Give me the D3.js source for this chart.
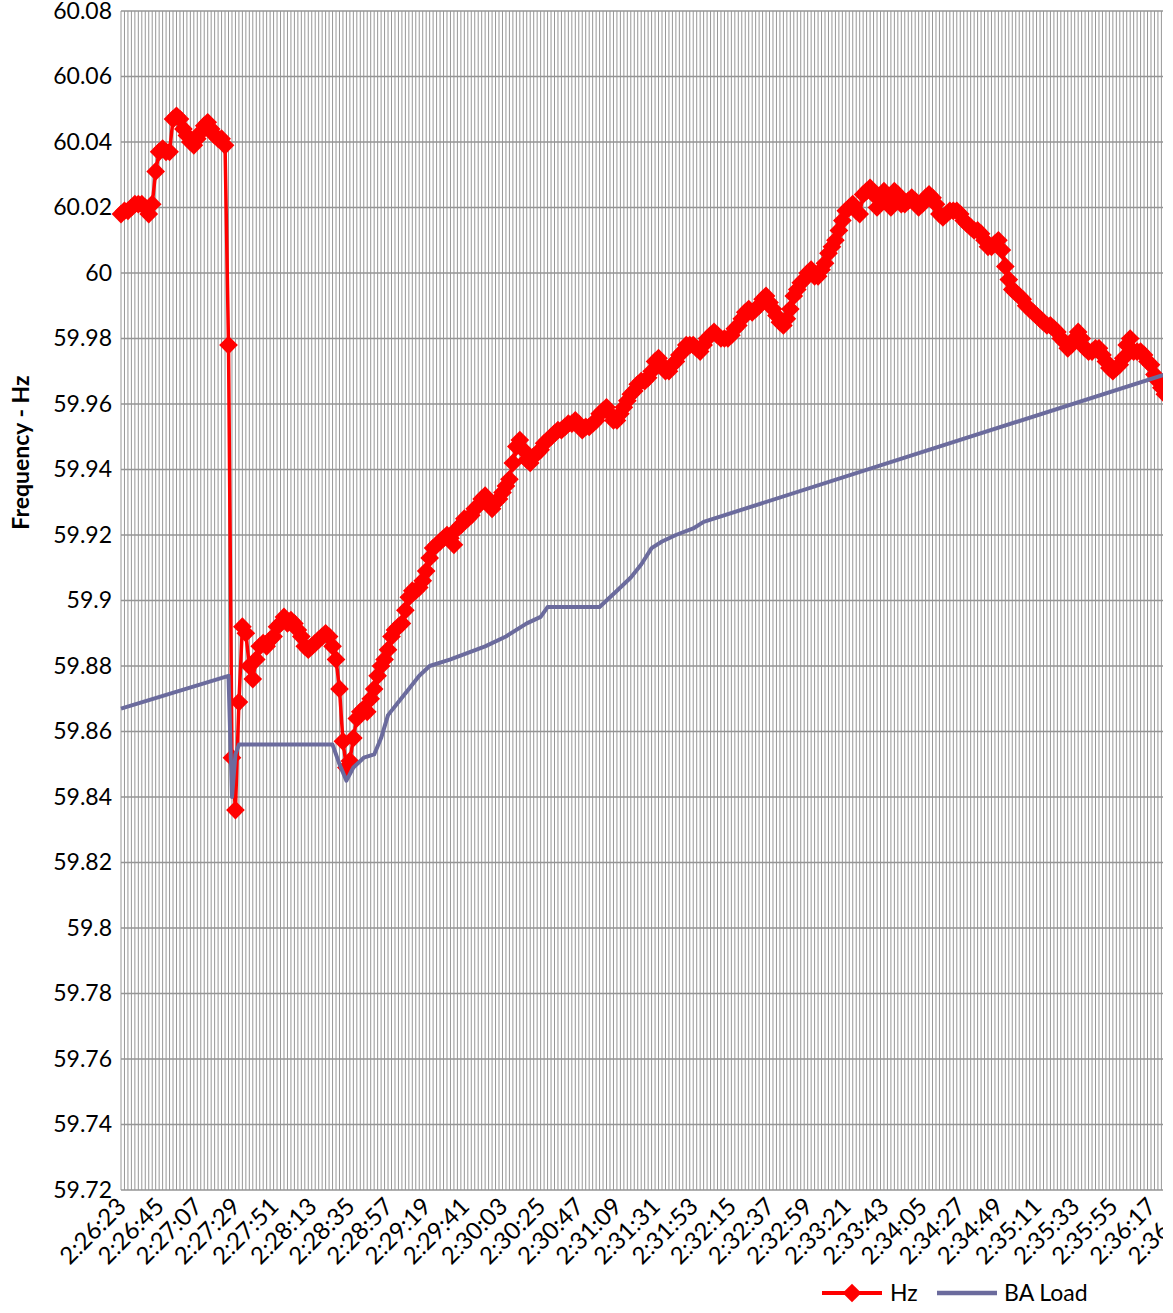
<!DOCTYPE html>
<html>
<head>
<meta charset="utf-8">
<script src="https://cdn.jsdelivr.net/npm/d3@7"></script>
<style>
  body { margin: 0; background: #fff; }
  svg { display: block; }
  text { font-family: Lato, "Open Sans", sans-serif; fill: #000; }
</style>
</head>
<body>
<div id="chart"></div>
<script>
// ---- data ----
var startTime = "2:26:23";      // first sample
var stepSeconds = 2;            // one sample every 2 s
var nCategories = 309;          // 2:26:23 .. 2:36:39

var tickLabels = ["2:26:23","2:26:45","2:27:07","2:27:29","2:27:51","2:28:13","2:28:35",
  "2:28:57","2:29:19","2:29:41","2:30:03","2:30:25","2:30:47","2:31:09","2:31:31",
  "2:31:53","2:32:15","2:32:37","2:32:59","2:33:21","2:33:43","2:34:05","2:34:27",
  "2:34:49","2:35:11","2:35:33","2:35:55","2:36:17","2:36:39"];

var yTicks = [59.72,59.74,59.76,59.78,59.8,59.82,59.84,59.86,59.88,59.9,59.92,59.94,
  59.96,59.98,60,60.02,60.04,60.06,60.08];

// Hz, one value per sample from 2:26:23
var hz = [
  60.018,60.019,60.019,60.020,60.021,60.021,60.021,60.020,60.018,60.021,
  60.031,60.037,60.038,60.037,60.037,60.047,60.048,60.047,60.044,60.042,
  60.040,60.039,60.041,60.043,60.045,60.046,60.044,60.042,60.041,60.041,
  60.039,59.978,59.852,59.836,59.869,59.892,59.890,59.880,59.876,59.882,
  59.886,59.887,59.886,59.888,59.889,59.892,59.893,59.895,59.893,59.894,
  59.893,59.891,59.889,59.886,59.885,59.886,59.887,59.888,59.889,59.890,
  59.889,59.886,59.882,59.873,59.857,59.849,59.851,59.858,59.864,59.866,
  59.867,59.866,59.870,59.873,59.877,59.880,59.882,59.885,59.889,59.891,
  59.892,59.893,59.897,59.901,59.903,59.903,59.904,59.906,59.909,59.913,
  59.916,59.917,59.918,59.919,59.920,59.919,59.917,59.922,59.923,59.925,
  59.925,59.926,59.928,59.929,59.931,59.932,59.930,59.928,59.930,59.931,
  59.933,59.935,59.937,59.942,59.947,59.949,59.946,59.943,59.942,59.944,
  59.945,59.946,59.948,59.949,59.950,59.951,59.952,59.952,59.953,59.954,
  59.954,59.955,59.954,59.952,59.953,59.953,59.954,59.955,59.957,59.958,
  59.959,59.957,59.955,59.955,59.957,59.959,59.961,59.963,59.964,59.966,
  59.967,59.967,59.968,59.970,59.973,59.974,59.972,59.970,59.970,59.972,
  59.973,59.975,59.976,59.978,59.978,59.978,59.977,59.976,59.978,59.980,
  59.981,59.982,59.981,59.980,59.980,59.980,59.981,59.983,59.984,59.986,
  59.988,59.989,59.988,59.989,59.990,59.992,59.993,59.991,59.989,59.987,
  59.985,59.984,59.986,59.989,59.993,59.995,59.997,59.998,60.000,60.001,
  59.999,59.999,60.001,60.003,60.006,60.008,60.010,60.013,60.016,60.019,
  60.020,60.021,60.019,60.018,60.024,60.025,60.026,60.024,60.020,60.023,
  60.025,60.022,60.020,60.025,60.024,60.021,60.021,60.022,60.023,60.022,
  60.020,60.021,60.023,60.024,60.023,60.021,60.018,60.017,60.018,60.019,
  60.019,60.019,60.018,60.016,60.015,60.014,60.013,60.013,60.012,60.010,
  60.008,60.008,60.009,60.010,60.007,60.002,59.998,59.995,59.994,59.993,
  59.992,59.990,59.989,59.988,59.987,59.986,59.985,59.984,59.984,59.983,
  59.982,59.980,59.979,59.977,59.978,59.980,59.982,59.980,59.977,59.976,
  59.976,59.977,59.977,59.975,59.973,59.971,59.970,59.971,59.972,59.974,
  59.978,59.980,59.976,59.976,59.976,59.975,59.973,59.972,59.969,59.967,
  59.965,59.963
];

// BA Load, drawn on the same scale; only the turning points
var baTimes = ["2:26:23","2:27:25","2:27:27","2:27:29","2:27:31","2:28:25","2:28:29",
  "2:28:33","2:28:37","2:28:43","2:28:49","2:28:53","2:28:57","2:29:03","2:29:09",
  "2:29:15","2:29:21","2:29:33","2:29:43","2:29:53","2:30:05","2:30:17","2:30:25",
  "2:30:29","2:30:59","2:31:09","2:31:17","2:31:23","2:31:29","2:31:35","2:31:43",
  "2:31:53","2:31:59","2:36:25"];
var baLoad = [59.867,59.877,59.840,59.853,59.856,59.856,59.850,
  59.845,59.849,59.852,59.853,59.858,59.865,59.869,59.873,
  59.877,59.880,59.882,59.884,59.886,59.889,59.893,59.895,
  59.898,59.898,59.903,59.907,59.911,59.916,59.918,59.920,
  59.922,59.924,59.969];

var seriesNames = ["Hz", "BA Load"];
var yTitle = "Frequency - Hz";

// ---- categories ----
function toSec(t){ var p = t.split(":").map(Number); return p[0]*3600 + p[1]*60 + p[2]; }
function fmt(s){ var h = Math.floor(s/3600), m = Math.floor(s%3600/60), x = s%60;
  return h + ":" + (m<10?"0":"") + m + ":" + (x<10?"0":"") + x; }
var categories = d3.range(nCategories).map(function(i){ return fmt(toSec(startTime) + i*stepSeconds); });

// ---- layout ----
var W = 1163, H = 1313;
var plotLeft = 121, plotTop = 11, plotBottom = 1190, step = 3.468;

var svg = d3.select("#chart").append("svg")
  .attr("width", W).attr("height", H);

var x = d3.scalePoint().domain(categories).range([plotLeft, plotLeft + step*(nCategories-1)]);
var y = d3.scaleLinear().domain([59.72, 60.08]).range([plotBottom, plotTop]);
var plotRight = x.range()[1];

// grid
var grid = svg.append("g");
grid.selectAll(".vg").data(categories).enter().append("line")
  .attr("x1", function(d){ return x(d); }).attr("x2", function(d){ return x(d); })
  .attr("y1", plotTop).attr("y2", plotBottom)
  .attr("stroke", "#979797").attr("stroke-width", 1);
grid.selectAll(".hg").data(yTicks).enter().append("line")
  .attr("x1", plotLeft).attr("x2", plotRight)
  .attr("y1", function(d){ return y(d); }).attr("y2", function(d){ return y(d); })
  .attr("stroke", "#959595").attr("stroke-width", 1.5);

// Hz line + diamonds
var hzData = hz.map(function(v, i){ return {t: categories[i], v: v}; });
var line = d3.line().x(function(d){ return x(d.t); }).y(function(d){ return y(d.v); });

svg.append("path").datum(hzData)
  .attr("fill", "none").attr("stroke", "#ff0000").attr("stroke-width", 3.5)
  .attr("stroke-linejoin", "round").attr("d", line);

var diamond = d3.symbol().type(d3.symbolSquare).size(175);
svg.append("g").selectAll("path").data(hzData).enter().append("path")
  .attr("d", diamond)
  .attr("transform", function(d){ return "translate(" + x(d.t) + "," + y(d.v) + ") rotate(45)"; })
  .attr("fill", "#ff0000");

// BA Load line
var baData = baTimes.map(function(t, i){ return {t: t, v: baLoad[i]}; });
svg.append("path").datum(baData)
  .attr("fill", "none").attr("stroke", "#6b6b9d").attr("stroke-width", 4)
  .attr("stroke-linejoin", "round").attr("d", line);

// y axis
var yAxis = svg.append("g").attr("transform", "translate(" + plotLeft + ",0)")
  .call(d3.axisLeft(y).tickValues(yTicks).tickSize(0).tickPadding(9)
    .tickFormat(function(d){ return String(+d.toFixed(2)); }));
yAxis.select(".domain").remove();
yAxis.selectAll("text").style("font-family", "Lato").style("font-size", "23px").attr("fill", "#000");

// x axis
var xAxis = svg.append("g").attr("transform", "translate(0," + plotBottom + ")")
  .call(d3.axisBottom(x).tickValues(tickLabels).tickSize(0));
xAxis.select(".domain").remove();
xAxis.selectAll("text")
  .style("font-family", "Lato").style("font-size", "24px").attr("fill", "#000")
  .attr("text-anchor", "end").attr("dy", null).attr("y", 0)
  .attr("transform", "translate(6,18) rotate(-45)");

// axis title
svg.append("text")
  .attr("transform", "translate(29," + ((plotTop + plotBottom)/2 - 148) + ") rotate(-90)")
  .attr("text-anchor", "middle")
  .style("font-size", "23px").style("font-weight", "bold")
  .text(yTitle);

// legend
var lg = svg.append("g").attr("transform", "translate(0,1293)");
lg.append("line").attr("x1", 822).attr("x2", 882).attr("stroke", "#ff0000").attr("stroke-width", 4);
lg.append("path").attr("d", diamond).attr("transform", "translate(852,0) rotate(45)").attr("fill", "#ff0000");
lg.append("text").attr("x", 890).attr("y", 8).style("font-size", "23px").text(seriesNames[0]);
lg.append("line").attr("x1", 937).attr("x2", 997).attr("stroke", "#6b6b9d").attr("stroke-width", 4.5);
lg.append("text").attr("x", 1004).attr("y", 8).style("font-size", "23px").text(seriesNames[1]);
</script>
</body>
</html>
